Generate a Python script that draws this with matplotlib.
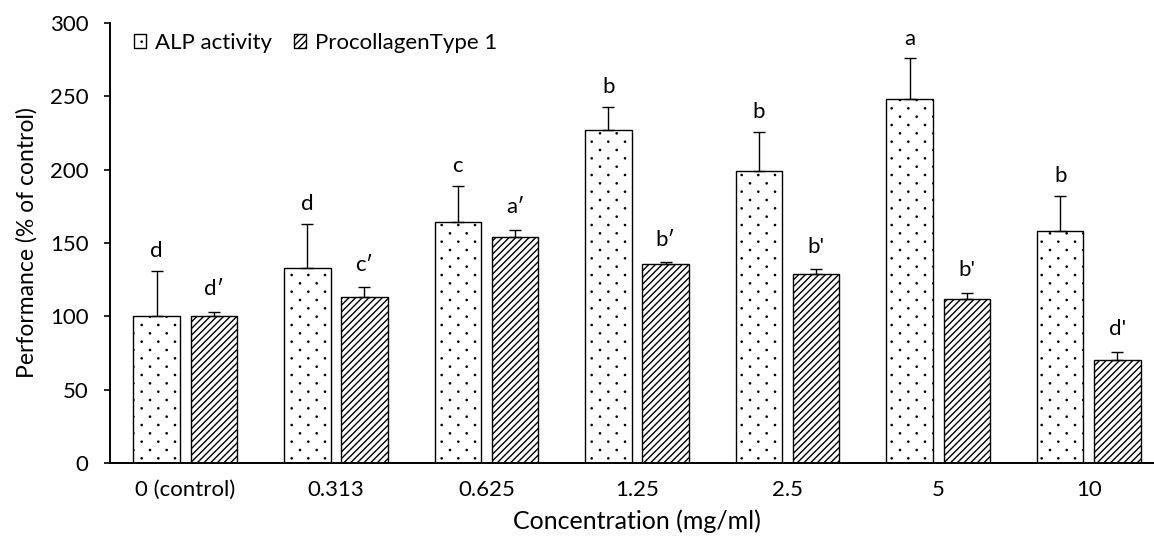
import matplotlib
matplotlib.use("Agg")
import matplotlib.pyplot as plt
import numpy as np
from matplotlib.path import Path

plt.rcParams['font.family'] = ['Lato', 'DejaVu Sans']
plt.rcParams['hatch.linewidth'] = 1.0

categories = ["0 (control)", "0.313", "0.625", "1.25", "2.5", "5", "10"]
alp_values = [100, 133, 164, 227, 199, 248, 158]
alp_errors = [31, 30, 25, 16, 27, 28, 24]
pro_values = [100, 113, 154, 136, 129, 112, 70]
pro_errors = [3, 7, 5, 1, 3, 4, 6]
alp_letters = ["d", "d", "c", "b", "b", "a", "b"]
pro_letters = ["d\u2032", "c\u2032", "a\u2032", "b\u2032", "b'", "b'", "d'"]
series_names = ["ALP activity", "ProcollagenType 1"]
y_ticks = [0, 50, 100, 150, 200, 250, 300]

# --- sparse staggered dot texture (replaces the '.' hatch) ---
try:
    import matplotlib.hatch as mhatch

    class SparseDots(mhatch.HatchPatternBase):
        filled = True

        def __init__(self, hatch, density):
            n = hatch.count('.')
            nrows, ncols = 12, 6
            circle = Path.unit_circle()
            self.sv = circle.vertices * 0.006
            self.sc = circle.codes
            centers = []
            if n > 0:
                for r in range(nrows + 1):
                    yy = r / nrows
                    if r % 2 == 0:
                        xs = np.arange(ncols + 1) / ncols
                    else:
                        xs = (np.arange(ncols) + 0.5) / ncols
                    for xx in xs:
                        centers.append((xx, yy))
            self.centers = centers
            self.num_vertices = len(centers) * len(self.sv)

        def set_vertices_and_codes(self, vertices, codes):
            vp = [self.sv + np.array(c) for c in self.centers]
            cp = [self.sc for _ in self.centers]
            np.concatenate(vp, out=vertices)
            np.concatenate(cp, out=codes)

    types = mhatch._hatch_types
    for i, t in enumerate(types):
        if t is mhatch.SmallFilledCircles:
            types[i] = SparseDots
except Exception:
    pass

fig = plt.figure(figsize=(11.54, 5.43), dpi=100)
ax = fig.add_axes([0.0953, 0.1473, 0.9134, 0.8103])

x = np.arange(len(categories))
w = 0.309
off = 0.19

b1 = ax.bar(x - off, alp_values, w, color='white', edgecolor='black',
            linewidth=1.0, hatch='.', label=series_names[0], zorder=2)
b2 = ax.bar(x + off, pro_values, w, color='white', edgecolor='black',
            linewidth=1.0, hatch='/////', label=series_names[1], zorder=2)

ax.errorbar(x - off, alp_values, yerr=[np.zeros(len(x)), alp_errors], fmt='none',
            ecolor='black', elinewidth=1.0, capsize=4, capthick=1.0, zorder=3)
ax.errorbar(x + off, pro_values, yerr=[np.zeros(len(x)), pro_errors], fmt='none',
            ecolor='black', elinewidth=1.0, capsize=4, capthick=1.0, zorder=3)

for i in range(len(x)):
    ax.annotate(alp_letters[i], (x[i] - off, alp_values[i] + alp_errors[i]),
                xytext=(0, 7), textcoords='offset points', ha='center', va='bottom',
                fontsize=16)
    ax.annotate(pro_letters[i], (x[i] + off, pro_values[i] + pro_errors[i]),
                xytext=(0, 9), textcoords='offset points', ha='center', va='bottom',
                fontsize=16)

ax.set_xlim(-0.5, 6.5)
ax.set_ylim(0, 300)
ax.set_yticks(y_ticks)
ax.set_xticks(x)
ax.set_xticklabels(categories)
ax.tick_params(axis='x', length=0, labelsize=16, pad=12)
ax.tick_params(axis='y', length=4.3, width=1.2, direction='out', labelsize=16, pad=11)
for s in ['top', 'right']:
    ax.spines[s].set_visible(False)
for s in ['left', 'bottom']:
    ax.spines[s].set_linewidth(1.4)

ax.set_ylabel("Performance (% of control)", fontsize=16.5, labelpad=9)
ax.set_xlabel("Concentration (mg/ml)", fontsize=18, labelpad=7)

ax.legend(loc='upper left', bbox_to_anchor=(0.014, 0.998), frameon=False, ncol=2,
          fontsize=16, handlelength=0.55, handleheight=0.55, handletextpad=0.4,
          columnspacing=1.0, borderaxespad=0)

fig.savefig("out.png", dpi=100)
